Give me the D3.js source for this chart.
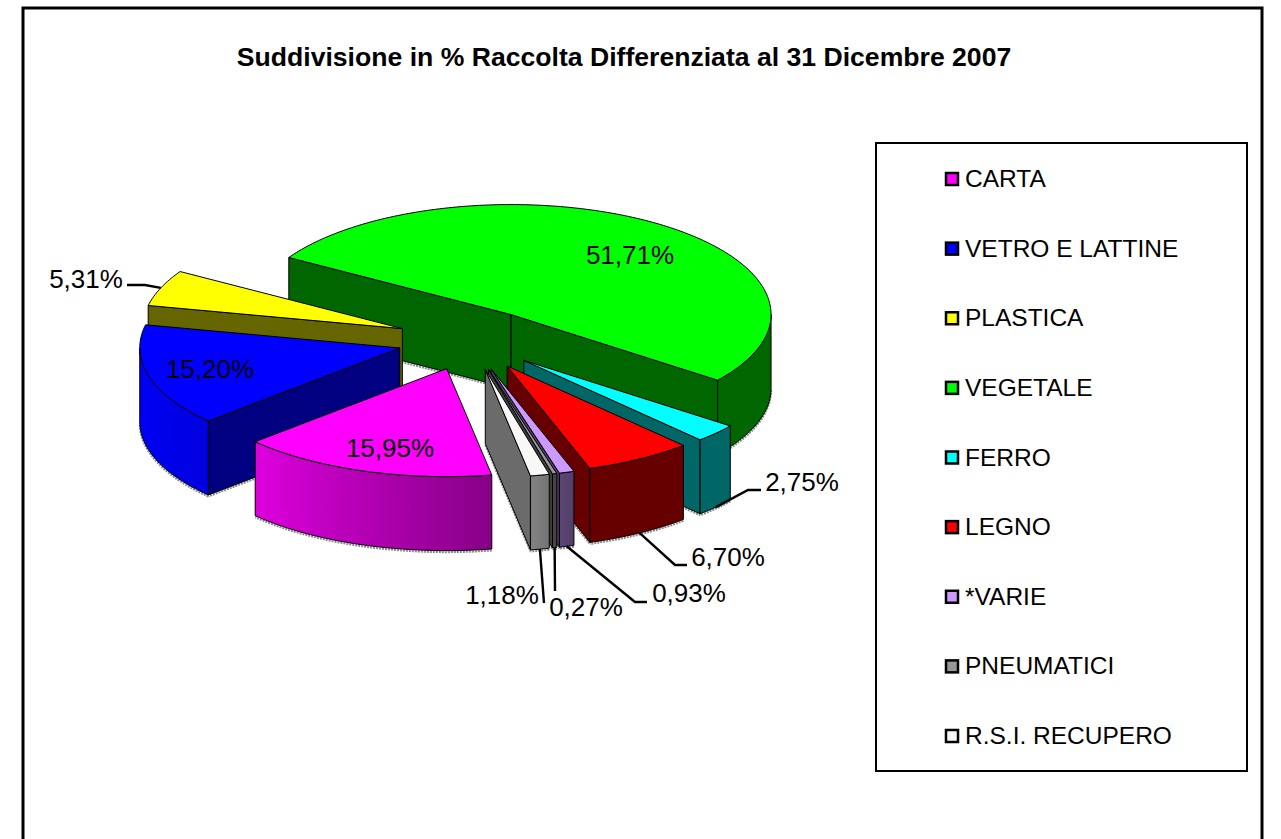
<!DOCTYPE html>
<html><head><meta charset="utf-8">
<style>html,body{margin:0;padding:0;background:#fff;overflow:hidden}svg{display:block}text{font-family:"Liberation Sans",Arial,sans-serif;fill:#000}</style>
<script src="https://cdn.jsdelivr.net/npm/d3@7/dist/d3.min.js"></script>
</head><body><script>
const categories=["CARTA","VETRO E LATTINE","PLASTICA","VEGETALE","FERRO","LEGNO","*VARIE","PNEUMATICI","R.S.I. RECUPERO"];
const values=[15.95,15.20,5.31,51.71,2.75,6.70,0.93,0.27,1.18];
const valueLabels=["15,95%","15,20%","5,31%","51,71%","2,75%","6,70%","0,93%","0,27%","1,18%"];
const colors=["#FF00FF","#0000FF","#FFFF00","#00FF00","#00FFFF","#FF0000","#CC99FF","#969696","#F8F8F8"];
// layout (not data)
const labelPlaces=[[390,448],[210,369],[86,279],[630,255],[802,482],[728,557],[689,593],[586,607],[502,595]];
const stubEnds=[null,null,[127,285],null,[761,490],[687,565],[647,602],[555,591],[544,603]];
const stubLens=[0,0,18,0,13,12,12,0,0];
const drawOrder=[3,2,1,4,5,0,6,7,8];
const radialShade=[.4,.5,.4,.4,.4,.4,.4,.4,.43];
const W=1281,H=839,depth=74,explode=.28,startDeg=170;
const rad=d=>d*Math.PI/180;
const svg=d3.select("body").append("svg").attr("width",W).attr("height",H);
const defs=svg.append("defs");
svg.append("rect").attr("x",23).attr("y",8).attr("width",1239).attr("height",H+20).attr("fill","#fff").attr("stroke","#000").attr("stroke-width",3);
svg.append("text").attr("x",624).attr("y",66).attr("text-anchor","middle").attr("font-weight","bold").attr("font-size",26.6).text("Suddivisione in % Raccolta Differenziata al 31 Dicembre 2007");

const xS=d3.scaleLinear().domain([-1,1]).range([210,730]);
const yS=d3.scaleLinear().domain([-1,0,1]).range([230,340,448]);
const arcs=d3.pie().sort(null).startAngle(rad(startDeg)).endAngle(rad(startDeg+360))(values);
const line=d3.line();
const shadeAt=d3.scaleLinear().domain([161,170,228,270]).range([.4,.53,.88,.98]).clamp(true);
function dark(c,f){const r=d3.rgb(c);return d3.rgb(r.r*f,r.g*f,r.b*f).formatHex();}

function apexOf(a){const m=(a.startAngle+a.endAngle)/2;return [xS(explode*Math.sin(m)),yS(-explode*Math.cos(m))];}
function pt(a,th){const p=apexOf(a);return [p[0]+xS(Math.sin(th))-xS(0),p[1]+yS(-Math.cos(th))-yS(0)];}
function arcPts(a,t0,t1){const n=Math.max(2,Math.ceil((t1-t0)/rad(1)));return d3.range(n+1).map(i=>pt(a,t0+(t1-t0)*i/n));}
const down=p=>[p[0],p[1]+depth];

const g=svg.append("g").attr("stroke-linejoin","round");
drawOrder.forEach(i=>{
  const a=arcs[i],c=colors[i],apex=apexOf(a);
  const s=g.append("g");
  const t0=a.startAngle,t1=a.endAngle;
  const wallA=Math.sin(t0)<0, wallB=Math.sin(t1)>0;
  function shadow(pts){s.append("path").attr("d",line(pts.map(p=>[p[0],p[1]+depth+1.5]))).attr("fill","none").attr("stroke","#8a8a8a").attr("stroke-width",2).attr("stroke-dasharray","2 1");}
  const radial=(th)=>{const q=pt(a,th);
    shadow([apex,q]);
    s.append("path").attr("d",line([apex,q,down(q),down(apex)])+"Z").attr("fill",dark(c,radialShade[i])).attr("stroke","#000").attr("stroke-width",1);};
  if(wallA)radial(t0);
  if(wallB)radial(t1);
  [0,1].forEach(k=>{
    const lo=Math.max(t0,rad(90+360*k)),hi=Math.min(t1,rad(270+360*k));
    if(hi<=lo)return;
    const top=arcPts(a,lo,hi);
    shadow(top);
    const id="grad"+i+"_"+k;
    const gr=defs.append("linearGradient").attr("id",id).attr("gradientUnits","userSpaceOnUse")
      .attr("x1",top[0][0]).attr("x2",top[top.length-1][0]).attr("y1",0).attr("y2",0);
    const span=top[top.length-1][0]-top[0][0];
    top.filter((_,j)=>j%4==0).forEach((p,j)=>{
      const deg=((lo+(hi-lo)*(4*j)/(top.length-1))*180/Math.PI)%360;
      gr.append("stop").attr("offset",Math.min(1,(p[0]-top[0][0])/span)).attr("stop-color",dark(c,shadeAt(deg)));
    });
    s.append("path").attr("d",line(top.concat(top.slice().reverse().map(down)))+"Z").attr("fill","url(#"+id+")").attr("stroke","#000").attr("stroke-width",1);
  });
  s.append("path").attr("d",line([apex].concat(arcPts(a,t0,t1)))+"Z").attr("fill",c).attr("stroke","#000").attr("stroke-width",1);
});

const labels=svg.append("g");
arcs.forEach((a,i)=>{
  const [lx,ly]=labelPlaces[i];
  labels.append("text").attr("x",lx).attr("y",ly+9).attr("text-anchor","middle").attr("font-size",26).text(valueLabels[i]);
  if(stubEnds[i]){
    const m=(a.startAngle+a.endAngle)/2,q=pt(a,m),from=Math.cos(m)>0?q:down(q);
    const e=stubEnds[i],dir=e[0]<from[0]?1:-1;
    const pts=stubLens[i]?[from,[e[0]+dir*stubLens[i],e[1]],e]:[from,e];
    labels.append("path").attr("d",line(pts)).attr("fill","none").attr("stroke","#000").attr("stroke-width",2.4);
  }
});

const legY=d3.scalePoint().domain(categories).range([179,736]);
const leg=svg.append("g");
leg.append("rect").attr("x",876).attr("y",143).attr("width",371).attr("height",628).attr("fill","#fff").attr("stroke","#000").attr("stroke-width",2);
categories.forEach((n,i)=>{
  const y=legY(n);
  leg.append("rect").attr("x",946).attr("y",y-6).attr("width",12).attr("height",12).attr("fill",colors[i]).attr("stroke","#000").attr("stroke-width",2.5);
  leg.append("text").attr("x",965).attr("y",y+8).attr("font-size",24.5).text(n);
});
</script></body></html>
